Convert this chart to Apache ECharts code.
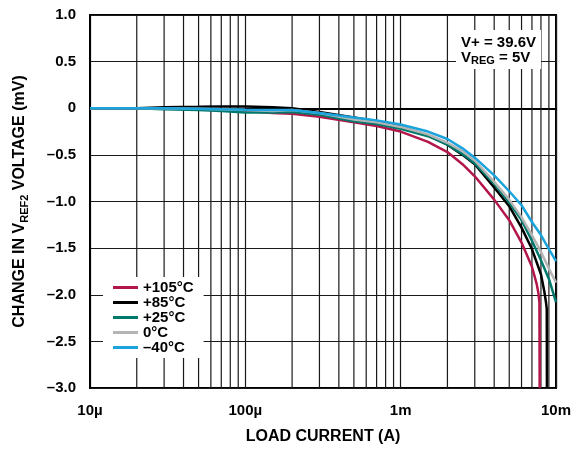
<!DOCTYPE html>
<html>
<head>
<meta charset="utf-8">
<script src="https://cdn.jsdelivr.net/npm/echarts@6/dist/echarts.min.js"></script>
<style>
html,body{margin:0;padding:0;background:#fff;}
#chart{width:576px;height:450px;}
</style>
</head>
<body>
<div id="chart"></div>
<script>
// ---- data ----
const xCommon = [1e-5, 2e-5, 3e-5, 5e-5, 7e-5, 1e-4, 1.5e-4, 2e-4, 3e-4, 5e-4, 7e-4, 1e-3, 1.5e-3, 2e-3, 2.5e-3, 3e-3, 4e-3, 5e-3, 6e-3, 7e-3, 8e-3, 9e-3, 1e-2];
const xRed = [1e-5, 2e-5, 3e-5, 5e-5, 7e-5, 1e-4, 1.5e-4, 2e-4, 3e-4, 5e-4, 7e-4, 1e-3, 1.5e-3, 2e-3, 2.5e-3, 3e-3, 4e-3, 5e-3, 6e-3, 7e-3, 7.5e-3, 7.7e-3, 7.82e-3, 7.85e-3];
const yRed = [0, 0, 0, -0.01, -0.02, -0.03, -0.05, -0.06, -0.09, -0.15, -0.19, -0.25, -0.36, -0.47, -0.60, -0.73, -0.98, -1.20, -1.44, -1.70, -1.88, -1.98, -2.08, -3.0];
const xBlack = [1e-5, 2e-5, 3e-5, 5e-5, 7e-5, 1e-4, 1.5e-4, 2e-4, 3e-4, 5e-4, 7e-4, 1e-3, 1.5e-3, 2e-3, 2.5e-3, 3e-3, 4e-3, 5e-3, 6e-3, 7e-3, 8e-3, 8.4e-3, 8.62e-3, 8.72e-3, 8.74e-3];
const yBlack = [0, 0, 0.01, 0.015, 0.02, 0.02, 0.01, 0.0, -0.04, -0.10, -0.14, -0.20, -0.29, -0.39, -0.50, -0.60, -0.85, -1.05, -1.28, -1.51, -1.78, -1.96, -2.08, -2.15, -3.0];
const yTeal = [0, 0, -0.01, -0.02, -0.03, -0.045, -0.045, -0.04, -0.07, -0.14, -0.17, -0.22, -0.30, -0.39, -0.49, -0.59, -0.81, -1.01, -1.20, -1.42, -1.63, -1.83, -2.08];
const yGray = [0, 0, 0, -0.005, -0.01, -0.02, -0.03, -0.02, -0.05, -0.12, -0.15, -0.20, -0.28, -0.37, -0.46, -0.56, -0.79, -0.98, -1.17, -1.36, -1.54, -1.72, -1.87];
const yBlue = [0, 0, 0, -0.005, -0.01, -0.015, -0.02, -0.02, -0.05, -0.10, -0.13, -0.175, -0.25, -0.33, -0.43, -0.53, -0.72, -0.89, -1.04, -1.22, -1.36, -1.51, -1.64];

const seriesNames = ['+105°C', '+85°C', '+25°C', '0°C', '\u201340°C'];
const seriesColors = ['#B3174A', '#000000', '#00796D', '#B5B5B5', '#1AA3DC'];

const xTickValues = [1e-5, 1e-4, 1e-3, 1e-2];
const xTickLabels = ['10\u00b5', '100\u00b5', '1m', '10m'];
const yTickValues = [1.0, 0.5, 0, -0.5, -1.0, -1.5, -2.0, -2.5, -3.0];
const yTickLabels = ['1.0', '0.5', '0', '\u20130.5', '\u20131.0', '\u20131.5', '\u20132.0', '\u20132.5', '\u20133.0'];
const minorGridValues = [2e-5,3e-5,4e-5,5e-5,6e-5,7e-5,8e-5,9e-5, 2e-4,3e-4,4e-4,5e-4,6e-4,7e-4,8e-4,9e-4, 2e-3,3e-3,4e-3,5e-3,6e-3,7e-3,8e-3,9e-3];
const Y_MIN = -3, Y_MAX = 1;

// ---- chart ----
const FONT = '"Liberation Sans", Arial, Helvetica, sans-serif';
const zip = (xs, ys) => xs.map((x, i) => [x, ys[i]]);
const seriesData = [zip(xRed, yRed), zip(xBlack, yBlack), zip(xCommon, yTeal), zip(xCommon, yGray), zip(xCommon, yBlue)];

const chart = echarts.init(document.getElementById('chart'), null, {renderer: 'canvas'});

const gridColor = '#1a1a1a';
const series = [{
  type: 'custom', name: '_minorgrid', z: 1, silent: true,
  data: minorGridValues.map(v => [v, 0]),
  encode: {x: 0, y: 1},
  renderItem: (params, api) => {
    const v = api.value(0);
    const p1 = api.coord([v, Y_MAX]);
    const p2 = api.coord([v, Y_MIN]);
    return {type: 'line', shape: {x1: p1[0], y1: p1[1], x2: p2[0], y2: p2[1]},
            style: {stroke: gridColor, lineWidth: 1.2}};
  }
}];
seriesNames.forEach((n, i) => {
  series.push({
    type: 'line', name: n, data: seriesData[i], z: 3,
    symbol: 'none', showSymbol: false, smooth: false,
    color: seriesColors[i],
    lineStyle: {color: seriesColors[i], width: 2.5},
    emphasis: {disabled: true}
  });
});

chart.setOption({
  animation: false,
  backgroundColor: '#fff',
  grid: {left: 90, right: 20, top: 15, bottom: 62, show: true, borderColor: '#000', borderWidth: 2, backgroundColor: 'transparent'},
  xAxis: {
    type: 'log', logBase: 10, min: 1e-5, max: 1e-2,
    name: 'LOAD CURRENT (A)', nameLocation: 'middle', nameGap: 41,
    nameTextStyle: {fontFamily: FONT, fontWeight: 'bold', fontSize: 16, color: '#000'},
    axisLine: {show: true, lineStyle: {color: '#000', width: 2}},
    axisTick: {show: false},
    axisLabel: {
      margin: 15, fontFamily: FONT, fontWeight: 'bold', fontSize: 15, color: '#000',
      formatter: v => { const i = xTickValues.findIndex(t => Math.abs(Math.log10(t) - Math.log10(v)) < 1e-6); return i >= 0 ? xTickLabels[i] : ''; }
    },
    splitLine: {show: true, lineStyle: {color: gridColor, width: 1.2}}
  },
  yAxis: {
    type: 'value', min: Y_MIN, max: Y_MAX, interval: 0.5,
    name: '{a|CHANGE IN V}{s|REF2}{a| VOLTAGE (mV)}', nameLocation: 'middle', nameGap: 62, nameRotate: 90,
    nameTextStyle: {
      fontFamily: FONT, fontWeight: 'bold', fontSize: 16, color: '#000',
      rich: {
        a: {fontFamily: FONT, fontWeight: 'bold', fontSize: 16, color: '#000', lineHeight: 16, verticalAlign: 'top'},
        s: {fontFamily: FONT, fontWeight: 'bold', fontSize: 11, color: '#000', lineHeight: 11, padding: [9, 0, 0, 0]}
      }
    },
    axisLine: {show: true, lineStyle: {color: '#000', width: 2}},
    axisTick: {show: false},
    axisLabel: {
      margin: 14, fontFamily: FONT, fontWeight: 'bold', fontSize: 15, color: '#000',
      formatter: v => { const i = yTickValues.findIndex(t => Math.abs(t - v) < 1e-9); return i >= 0 ? yTickLabels[i] : ''; }
    },
    splitLine: {show: true, lineStyle: {color: gridColor, width: 1.2}}
  },
  legend: {
    show: true, orient: 'vertical', left: 103, top: 277,
    data: seriesNames,
    icon: 'rect', itemWidth: 25, itemHeight: 3, itemGap: 0, itemTextGap: 7,
    padding: [3, 10, 3, 10], backgroundColor: '#fff',
    textStyle: {fontFamily: FONT, fontWeight: 'bold', fontSize: 15, color: '#000', lineHeight: 15},
    selectedMode: false, z: 10
  },
  graphic: [{
    type: 'text', left: 456, top: 30, z: 100, silent: true,
    style: {
      text: '{a|V+ = 39.6V}\n{a|V}{s|REG}{a| = 5V}',
      align: 'center', verticalAlign: 'top',
      backgroundColor: '#fff', padding: [5, 5, 4, 5],
      rich: {
        a: {fontFamily: FONT, fontWeight: 'bold', fontSize: 15, fill: '#000', color: '#000', lineHeight: 15, verticalAlign: 'top'},
        s: {fontFamily: FONT, fontWeight: 'bold', fontSize: 11, fill: '#000', color: '#000', lineHeight: 11, padding: [7, 0, 0, 0]}
      }
    }
  }],
  series: series
});
</script>
</body>
</html>
